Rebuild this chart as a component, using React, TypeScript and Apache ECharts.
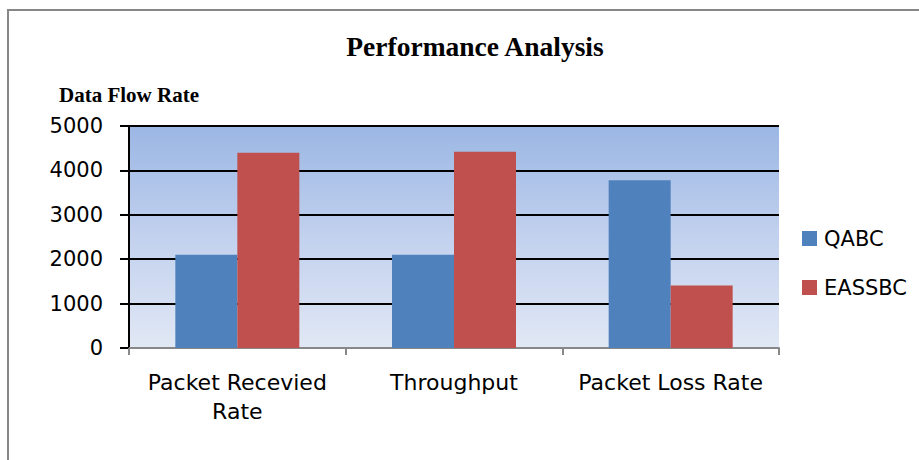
import React, { useEffect, useRef } from "react";
import * as echarts from "echarts";

const categories = ["Packet Recevied\nRate", "Throughput", "Packet Loss Rate"];
const qabcValues = [2100, 2100, 3780];
const eassbcValues = [4400, 4420, 1410];
const seriesNames = ["QABC", "EASSBC"];
const yTicks = { min: 0, max: 5000, interval: 1000 };
const titleText = "Performance Analysis";
const yAxisTitle = "Data Flow Rate";

export default function App() {
  const ref = useRef<HTMLDivElement>(null);
  useEffect(() => {
    if (!ref.current) return;
    const chart = echarts.init(ref.current, null, { renderer: "svg" });
    const sans = "DejaVu Sans";
    const serif = "Liberation Serif";
    chart.setOption({
      animation: false,
      backgroundColor: "#ffffff",
      title: {
        text: titleText,
        left: 475,
        top: 32,
        padding: 0,
        textAlign: "center",
        textStyle: { fontFamily: serif, fontWeight: "bold", fontSize: 27.5, color: "#000" },
      },
      graphic: [
        {
          type: "rect",
          shape: { x: 8, y: 10, width: 1200, height: 1200 },
          style: { fill: "none", stroke: "#878787", lineWidth: 2 },
          silent: true,
        },
      ],
      legend: {
        orient: "vertical",
        left: 802,
        top: 228,
        padding: 0,
        itemWidth: 15,
        itemHeight: 15,
        itemGap: 28,
        icon: "rect",
        data: seriesNames,
        textStyle: { fontFamily: sans, fontSize: 21, color: "#000", lineHeight: 21, padding: [0, 0, 0, 2] },
      },
      grid: {
        left: 129,
        right: 140,
        top: 126,
        bottom: 112,
        show: true,
        borderWidth: 0,
        backgroundColor: new echarts.graphic.LinearGradient(0, 0, 0, 1, [
          { offset: 0, color: "#9bb7e4" },
          { offset: 0.5, color: "#c2d1ee" },
          { offset: 1, color: "#e1e8f5" },
        ]),
      },
      xAxis: {
        type: "category",
        data: categories,
        axisLine: { show: true, lineStyle: { color: "#888", width: 2 } },
        axisTick: { show: true, length: 7, lineStyle: { color: "#888", width: 2 } },
        axisLabel: {
          fontFamily: sans,
          fontSize: 22,
          color: "#000",
          lineHeight: 29,
          margin: 20,
          interval: 0,
        },
        splitLine: { show: false },
      },
      yAxis: {
        type: "value",
        min: yTicks.min,
        max: yTicks.max,
        interval: yTicks.interval,
        name: yAxisTitle,
        nameLocation: "end",
        nameGap: 21,
        nameTextStyle: { fontFamily: serif, fontWeight: "bold", fontSize: 21, color: "#000", align: "center" },
        axisLine: { show: true, lineStyle: { color: "#000", width: 2 } },
        axisTick: { show: true, length: 9, lineStyle: { color: "#000", width: 2 } },
        axisLabel: {
          fontFamily: sans,
          fontSize: 21,
          color: "#000",
          margin: 26,
          formatter: (v: number) => String(v),
        },
        splitLine: {
          show: true,
          lineStyle: { color: ["#888", "#000", "#000", "#000", "#000", "#000"], width: 2 },
        },
      },
      series: [
        {
          name: seriesNames[0],
          type: "bar",
          data: qabcValues,
          barWidth: 62,
          barGap: "0%",
          itemStyle: { color: "#4f81bd" },
        },
        {
          name: seriesNames[1],
          type: "bar",
          data: eassbcValues,
          barWidth: 62,
          barGap: "0%",
          itemStyle: { color: "#c0504d" },
        },
      ],
    });
    return () => chart.dispose();
  }, []);
  return (
    <div
      ref={ref}
      style={{ position: "fixed", left: 0, top: 0, width: 919, height: 460 }}
    />
  );
}
